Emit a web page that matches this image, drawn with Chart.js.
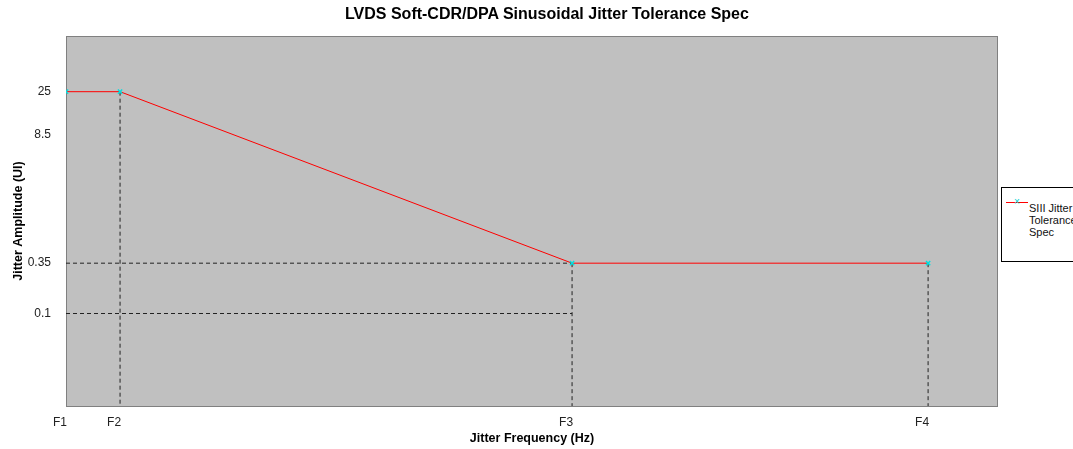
<!DOCTYPE html>
<html>
<head>
<meta charset="utf-8">
<script src="https://cdn.jsdelivr.net/npm/chart.js@4/dist/chart.umd.min.js"></script>
<style>
  body { margin: 0; background: #fff; }
  #wrap { position: relative; width: 1073px; height: 449px; overflow: hidden; font-family: "Liberation Sans", Arial, sans-serif; }
  #title {
    position: absolute; left: 345px; width: 400px; top: 4px; text-align: center;
    font-weight: bold; font-size: 16px; line-height: 20px; color: #000; white-space: nowrap;
  }
  #legend {
    position: absolute; left: 1001px; top: 187px; width: 80px; height: 75px;
    border: 1px solid #000; background: #fff; box-sizing: border-box;
    font-size: 11px; color: #111; line-height: 12px;
  }
  #legend .sample { position: absolute; left: 4px; top: 14px; width: 22px; height: 1px; background: #ff0000; }
  #legend .mark { position: absolute; left: 12px; top: 9px; font-size: 10px; color: #00d0d0; line-height: 10px; }
  #legend .text { position: absolute; left: 27px; top: 14px; }
</style>
</head>
<body>
<div id="wrap">
  <canvas id="chart" width="1073" height="449"></canvas>
  <div id="title">LVDS Soft-CDR/DPA Sinusoidal Jitter Tolerance Spec</div>
  <div id="legend">
    <div class="sample"></div><div class="mark">×</div>
    <div class="text">SIII Jitter<br>Tolerance<br>Spec</div>
  </div>
</div>
<script>
// chart values
const freqLabels = ['F1', 'F2', 'F3', 'F4'];
const freqPos = [0, 5.8, 54.3, 92.5];
const amplitude = [25, 25, 0.35, 0.35];
const yTicks = [0.1, 0.35, 8.5, 25];
const yTickLabels = ['0.1', '0.35', '8.5', '25'];
const yMin = 0.01, yMax = 100;

const font = '"Liberation Sans", Arial, sans-serif';

const pt = (x, y) => ({ x: x, y: y });
const guide = (data) => ({
  data: data,
  borderColor: '#222',
  borderWidth: 1,
  borderDash: [4, 3],
  pointRadius: 0,
  fill: false
});

// grey plot background and frame
const plotBox = {
  id: 'plotBox',
  beforeDatasetsDraw(chart) {
    const a = chart.chartArea, ctx = chart.ctx;
    ctx.save();
    ctx.fillStyle = '#c0c0c0';
    ctx.fillRect(a.left, a.top, a.right - a.left, a.bottom - a.top);
    ctx.strokeStyle = '#808080';
    ctx.lineWidth = 1;
    ctx.strokeRect(a.left + 0.5, a.top + 0.5, a.right - a.left - 1, a.bottom - a.top);
    ctx.restore();
  }
};

new Chart(document.getElementById('chart'), {
  type: 'line',
  data: {
    datasets: [
      {
        label: 'SIII Jitter Tolerance Spec',
        data: freqPos.map((x, i) => pt(x, amplitude[i])),
        borderColor: '#ff0000',
        borderWidth: 1,
        pointStyle: 'crossRot',
        pointRadius: 3,
        pointBorderColor: '#00e0e0',
        pointBorderWidth: 1.5,
        tension: 0
      },
      guide([pt(freqPos[1], amplitude[1]), pt(freqPos[1], yMin)]),
      guide([pt(freqPos[0], amplitude[2]), pt(freqPos[2], amplitude[2])]),
      guide([pt(freqPos[0], yTicks[0]), pt(freqPos[2], yTicks[0])]),
      guide([pt(freqPos[2], amplitude[2]), pt(freqPos[2], yMin)]),
      guide([pt(freqPos[3], amplitude[3]), pt(freqPos[3], yMin)])
    ]
  },
  options: {
    responsive: false,
    animation: false,
    layout: { padding: { left: 0, right: 75, top: 36, bottom: 0 } },
    plugins: {
      legend: { display: false },
      tooltip: { enabled: false },
      title: { display: false }
    },
    scales: {
      x: {
        type: 'linear',
        min: 0,
        max: 100,
        grid: { display: false, drawTicks: false },
        border: { display: false },
        afterBuildTicks: (s) => { s.ticks = freqPos.map(v => ({ value: v })); },
        afterFit: (s) => { s.height = 43; },
        ticks: {
          autoSkip: false,
          maxRotation: 0,
          padding: 9,
          labelOffset: -6,
          color: '#222',
          font: { family: font, size: 12 },
          callback: (v, i) => freqLabels[i]
        },
        title: {
          display: true,
          text: 'Jitter Frequency (Hz)',
          color: '#000',
          font: { family: font, size: 12.5, weight: 'bold' },
          padding: { top: 0, bottom: 3 }
        }
      },
      y: {
        type: 'logarithmic',
        min: yMin,
        max: yMax,
        grid: { display: false, drawTicks: false },
        border: { display: false },
        afterBuildTicks: (s) => { s.ticks = yTicks.map(v => ({ value: v })); },
        afterFit: (s) => { s.width = 66; },
        ticks: {
          autoSkip: false,
          padding: 15,
          color: '#222',
          font: { family: font, size: 12 },
          callback: (v, i) => yTickLabels[i]
        },
        title: {
          display: true,
          text: 'Jitter Amplitude (UI)',
          color: '#000',
          font: { family: font, size: 12.5, weight: 'bold' },
          padding: { top: 11, bottom: 0 }
        }
      }
    }
  },
  plugins: [plotBox]
});
</script>
</body>
</html>
